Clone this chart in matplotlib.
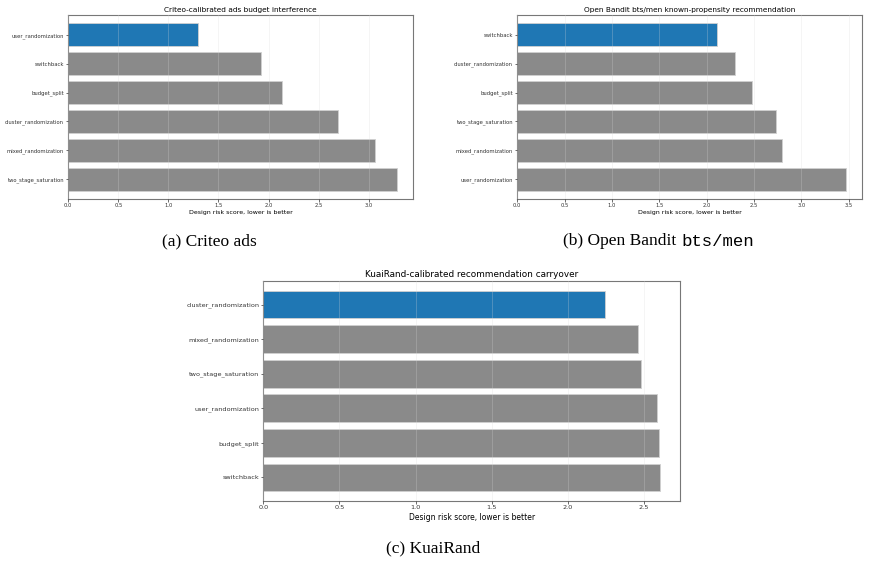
import matplotlib
matplotlib.use("Agg")
import matplotlib.pyplot as plt

# Panel (a) Criteo
a_designs = ["user_randomization", "switchback", "budget_split",
             "cluster_randomization", "mixed_randomization", "two_stage_saturation"]
a_scores = [1.30, 1.92, 2.13, 2.69, 3.06, 3.28]
a_title = "Criteo-calibrated ads budget interference"

# Panel (b) Open Bandit
b_designs = ["switchback", "cluster_randomization", "budget_split",
             "two_stage_saturation", "mixed_randomization", "user_randomization"]
b_scores = [2.11, 2.30, 2.48, 2.735, 2.80, 3.47]
b_title = "Open Bandit bts/men known-propensity recommendation"

# Panel (c) KuaiRand
c_designs = ["cluster_randomization", "mixed_randomization", "two_stage_saturation",
             "user_randomization", "budget_split", "switchback"]
c_scores = [2.24, 2.46, 2.48, 2.585, 2.60, 2.607]
c_title = "KuaiRand-calibrated recommendation carryover"

xlabel = "Design risk score, lower is better"

W, H = 869, 563
fig = plt.figure(figsize=(W / 100, H / 100), dpi=100)


def px_axes(left, top, right, bottom):
    return fig.add_axes([left / W, (H - bottom) / H, (right - left) / W, (bottom - top) / H])


def panel(ax, designs, scores, title, tick_fs, title_fs, label_fs):
    colors = ["#1f77b4"] + ["#8a8a8a"] * (len(scores) - 1)
    ax.barh(designs, scores, height=0.8, color=colors, edgecolor="#d0d0d0", linewidth=0.6)
    ax.invert_yaxis()
    ax.set_axisbelow(False)
    ax.grid(axis="x", color="#d8d8d8", linewidth=0.6, alpha=0.3)
    ax.set_title(title, fontsize=title_fs, pad=2.5)
    ax.set_xlabel(xlabel, fontsize=label_fs, labelpad=1.5)
    ax.tick_params(axis="both", labelsize=tick_fs, length=1.8, width=0.5, pad=1.2,
                   colors="#333333")
    for s in ax.spines.values():
        s.set_color("#777777")
        s.set_linewidth(0.8)


ax_a = px_axes(68.3, 15, 413.1, 199)
panel(ax_a, a_designs, a_scores, a_title, 3.8, 5.3, 4.5)
ax_b = px_axes(517.3, 15, 862.3, 199)
panel(ax_b, b_designs, b_scores, b_title, 3.8, 5.3, 4.5)
ax_c = px_axes(263.3, 280.7, 680.3, 501.3)
panel(ax_c, c_designs, c_scores, c_title, 4.65, 6.4, 5.5)

serif = ["Liberation Serif", "DejaVu Serif"]
mono = ["Liberation Mono", "DejaVu Sans Mono"]
cap_fs = 12.5
fig.text(209 / W, (H - 241) / H, "(a) Criteo ads", family=serif, fontsize=cap_fs,
         ha="center", va="center")
fig.text(676 / W, (H - 241) / H, "(b) Open Bandit", family=serif, fontsize=cap_fs,
         ha="right", va="center")
fig.text(681 / W, (H - 241) / H, "bts/men", family=mono, fontsize=cap_fs,
         ha="left", va="center")
fig.text(433 / W, (H - 548) / H, "(c) KuaiRand", family=serif, fontsize=cap_fs,
         ha="center", va="center")

fig.savefig("out.png", dpi=100)
